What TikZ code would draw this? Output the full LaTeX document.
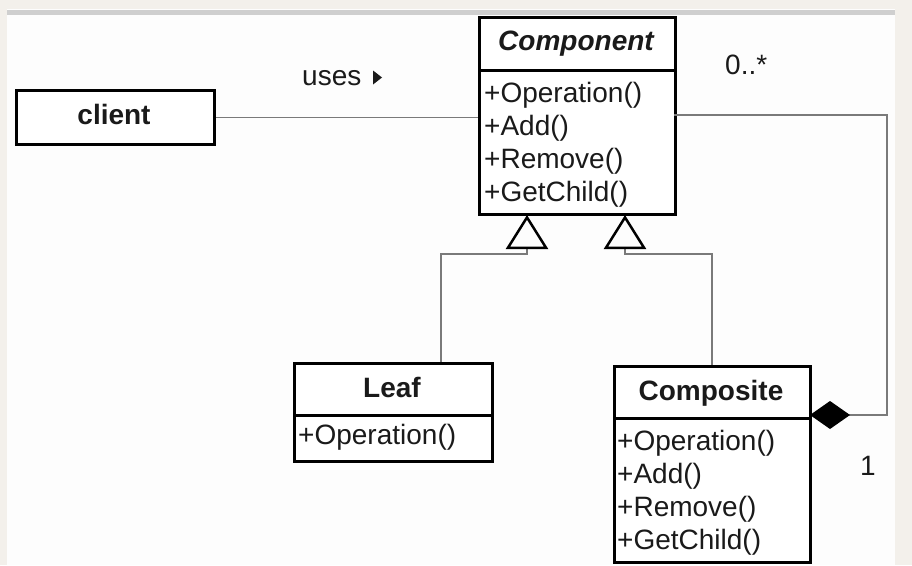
\documentclass[tikz,border=0pt]{standalone}
\usepackage{fontspec}
\setmainfont{Liberation Sans}
\usetikzlibrary{arrows.meta}
\definecolor{framec}{HTML}{F3F0EB}
\definecolor{paperc}{HTML}{FDFDFD}
\definecolor{barc}{HTML}{CFCFCF}
\definecolor{connc}{HTML}{7A7A7A}
\definecolor{inkc}{HTML}{1A1A1A}
\begin{document}
\begin{tikzpicture}[x=1pt,y=-1pt,
  box/.style={draw=black, line width=3pt, fill=white, inner sep=0pt, anchor=north west},
  divider/.style={draw=black, line width=3pt},
  txt/.style={inner sep=0pt, anchor=base west, font=\fontsize{28}{32}\selectfont, text=inkc},
  ttl/.style={inner sep=0pt, anchor=base, font=\fontsize{28}{32}\selectfont\bfseries, text=inkc},
  conn/.style={draw=connc, line width=1.5pt},
  gen/.style={conn, -{Triangle[open, length=34pt, width=42pt, line width=2.5pt, color=black]}},
  compo/.style={conn, -{Diamond[length=40pt, width=28pt, color=black, fill=black]}},
]
% background frame
\fill[framec] (0,0) rectangle (912,565);
\fill[paperc] (7,9) rectangle (895,565);
\fill[barc] (7,10) rectangle (895,15);
\useasboundingbox (0,0) rectangle (912,565);

% client
\node[box, minimum width=198pt, minimum height=54pt] (client) at (15,89) {};
\node[ttl] (clientt) at (114,124) {client};

% Component
\node[box, minimum width=196pt, minimum height=197pt] (comp) at (478,16) {};
\coordinate (cdl) at (478,70);
\coordinate (cdr) at (674,70);
\draw[divider] (cdl) -- (cdr);
\node[ttl, font=\fontsize{28}{32}\selectfont\bfseries\itshape] (compt) at (576,50) {Component};
\node[txt] (cm1) at (484,102) {+Operation()};
\node[txt] (cm2) at (484,135) {+Add()};
\node[txt] (cm3) at (484,168) {+Remove()};
\node[txt] (cm4) at (484,201) {+GetChild()};

% Leaf
\node[box, minimum width=198pt, minimum height=98pt] (leaf) at (293,362) {};
\coordinate (ldl) at (293,415);
\coordinate (ldr) at (491,415);
\draw[divider] (ldl) -- (ldr);
\node[ttl] (leaft) at (392,397) {Leaf};
\node[txt] (lm1) at (298,444) {+Operation()};

% Composite
\node[box, minimum width=196pt, minimum height=196pt] (cps) at (613,365) {};
\coordinate (pdl) at (613,418);
\coordinate (pdr) at (809,418);
\draw[divider] (pdl) -- (pdr);
\node[ttl] (cpst) at (711,400) {Composite};
\node[txt] (pm1) at (617,450) {+Operation()};
\node[txt] (pm2) at (617,483) {+Add()};
\node[txt] (pm3) at (617,516) {+Remove()};
\node[txt] (pm4) at (617,549) {+GetChild()};

% uses association
\draw[conn] (client.east) -- (client.east -| comp.west);
\node[txt] (uses) at (302,85) {uses};
\fill[inkc] (373,70.5) -- (382,77.5) -- (373,84.5) -- cycle;

% generalizations
\coordinate (g1) at (527,215);
\coordinate (g2) at (625,215);
\coordinate (leaftop) at (441,362);
\coordinate (cpstop) at (712,365);
\draw[gen] (leaftop) -- (441,254) -- (527,254) -- (g1);
\draw[gen] (cpstop) -- (712,254) -- (625,254) -- (g2);

% composition
\coordinate (cright) at (674,115);
\coordinate (cpsend) at (810,415);
\draw[compo] (cright) -- (887,115) -- (887,415) -- (cpsend);
\node[txt] (many) at (725,74) {0..*};
\node[txt] (one) at (860,475) {1};
\end{tikzpicture}
\end{document}
